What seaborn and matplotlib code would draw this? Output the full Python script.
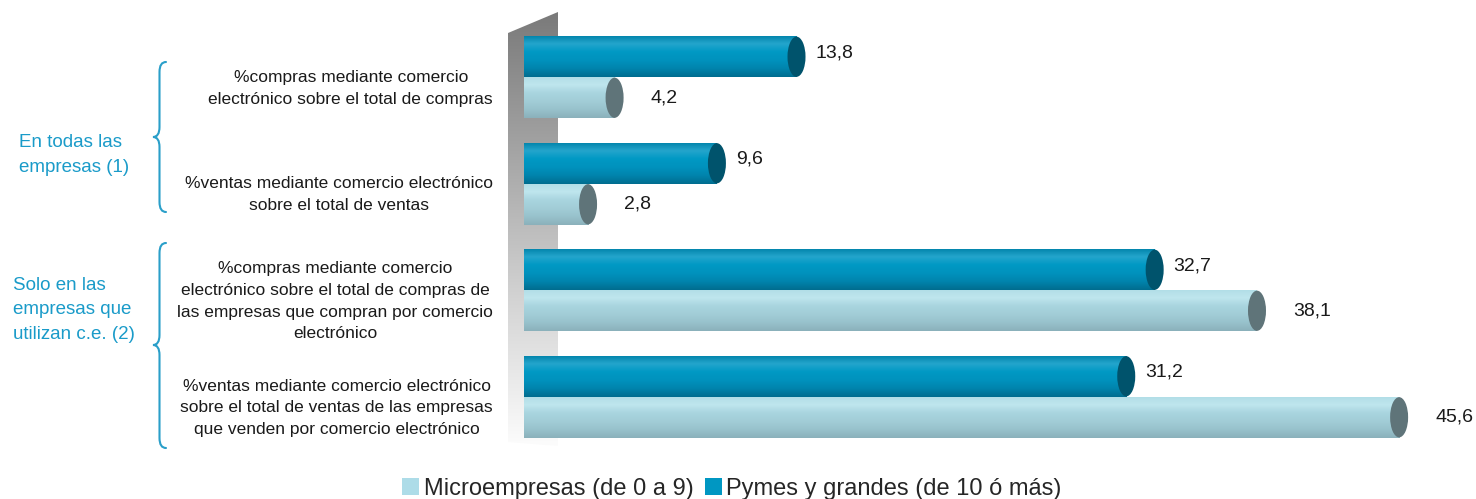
import numpy as np
import pandas as pd
import matplotlib
matplotlib.use("Agg")
import matplotlib.pyplot as plt
import seaborn as sns
from matplotlib import font_manager
from matplotlib.patches import Ellipse, Polygon, Patch, PathPatch
from matplotlib.path import Path
from matplotlib.colors import LinearSegmentedColormap

# ---------------- data ----------------
categories = [
    "%compras mediante comercio\nelectrónico sobre el total de compras",
    "%ventas mediante comercio electrónico\nsobre el total de ventas",
    "%compras mediante comercio\nelectrónico sobre el total de compras de\nlas empresas que compran por comercio\nelectrónico",
    "%ventas mediante comercio electrónico\nsobre el total de ventas de las empresas\nque venden por comercio electrónico",
]
series_names = ["Microempresas (de 0 a 9)", "Pymes y grandes (de 10 ó más)"]
micro_values = [4.2, 2.8, 38.1, 45.6]
pymes_values = [13.8, 9.6, 32.7, 31.2]
value_labels_micro = ["4,2", "2,8", "38,1", "45,6"]
value_labels_pymes = ["13,8", "9,6", "32,7", "31,2"]
group_labels = ["En todas las\nempresas (1)", "Solo en las\nempresas que\nutilizan c.e. (2)"]

df = pd.DataFrame({
    "categoria": categories * 2,
    "serie": [series_names[1]] * 4 + [series_names[0]] * 4,
    "valor": pymes_values + micro_values,
})

# ---------------- style ----------------
sns.set_style("white")
plt.rcParams["font.family"] = ["Liberation Sans", "DejaVu Sans"]

installed = {f.name for f in font_manager.fontManager.ttflist}
if "Liberation Sans Narrow" in installed:
    legend_font = {"family": ["Liberation Sans Narrow", "DejaVu Sans"], "size": 18}
else:
    legend_font = {"family": ["Liberation Sans", "DejaVu Sans"], "size": 17}

W, H = 1476, 499
fig = plt.figure(figsize=(W / 100, H / 100), dpi=100)

# background axes in pixel coordinates for decorations
bg = fig.add_axes([0, 0, 1, 1], zorder=0)
bg.axis("off")

# gray "wall" with vertical gradient
wall = Polygon([(508, 33), (558, 12), (558, 446), (508, 442)], closed=True,
               facecolor="none", edgecolor="none")
bg.add_patch(wall)
wall_cmap = LinearSegmentedColormap.from_list(
    "wall", ["#7a7a7a", "#a6a6a6", "#d4d4d4", "#fcfcfc"])
grad = np.linspace(0, 1, 256).reshape(-1, 1)
im = bg.imshow(grad, extent=(508, 558, 446, 12), cmap=wall_cmap,
               aspect="auto", origin="upper", zorder=1)
im.set_clip_path(wall)
bg.set_xlim(0, W)
bg.set_ylim(H, 0)

# curly braces
brace_color = "#2a9fc9"


def brace(ax, x_tip, x_end, y0, y1, ym):
    r = 10
    xm = (x_tip + x_end) / 2
    verts = [
        (x_end, y0), (xm, y0), (xm, y0 + r),
        (xm, ym - r),
        (xm, ym), (x_tip, ym),
        (xm, ym), (xm, ym + r),
        (xm, y1 - r),
        (xm, y1), (x_end, y1),
    ]
    codes = [Path.MOVETO, Path.CURVE3, Path.CURVE3,
             Path.LINETO,
             Path.CURVE3, Path.CURVE3,
             Path.CURVE3, Path.CURVE3,
             Path.LINETO,
             Path.CURVE3, Path.CURVE3]
    ax.add_patch(PathPatch(Path(verts, codes), facecolor="none",
                           edgecolor=brace_color, lw=1.5, capstyle="round"))


brace(bg, 153, 166, 62, 212, 137)
brace(bg, 153, 166, 243, 448, 345)

bg.text(19, 155, group_labels[0], color="#1a9bc9", fontsize=13.5,
        ha="left", va="center", linespacing=1.55)
bg.text(13, 310, group_labels[1], color="#1a9bc9", fontsize=13.5,
        ha="left", va="center", linespacing=1.55)

# ---------------- main axes ----------------
ax_left, ax_right = 524, 1476
ax_top, ax_bottom = 24, 450
px_per_unit = 18.95
zero_px = 535
x_lo = (ax_left - zero_px) / px_per_unit
x_hi = (ax_right - zero_px) / px_per_unit

ax = fig.add_axes([ax_left / W, 1 - ax_bottom / H,
                   (ax_right - ax_left) / W, (ax_bottom - ax_top) / H], zorder=2)
ax.patch.set_alpha(0)

palette = {series_names[0]: "#a6d6e0", series_names[1]: "#0094bf"}
sns.barplot(data=df, y="categoria", x="valor", hue="serie",
            hue_order=[series_names[1], series_names[0]], order=categories,
            palette=palette, width=0.77, orient="h", ax=ax, legend=False,
            saturation=1, edgecolor="none", linewidth=0)

ax.set_xlim(x_lo, x_hi)
ax.set_ylim(3.5, -0.5)

dark_cmap = LinearSegmentedColormap.from_list(
    "dark", ["#0083aa", "#24a5cc", "#0099c4", "#0092bd", "#0084ad", "#006d90"])
light_cmap = LinearSegmentedColormap.from_list(
    "light", ["#b1dde6", "#bfe6ee", "#a9d5df", "#a2cdd7", "#98c2cc", "#8bb1bb"])
cap_colors = {"dark": "#00536c", "light": "#5f7479"}

bars = list(ax.patches)
grad_bar = np.linspace(0, 1, 64).reshape(-1, 1)
# first 4 patches are Pymes (dark), next 4 are Micro (light)
for i, p in enumerate(bars):
    kind = "dark" if i < 4 else "light"
    x0, y0 = p.get_x(), p.get_y()
    w, h = p.get_width(), p.get_height()
    xend = x0 + w
    # extend the cylinder base back onto the wall
    p.set_x(x_lo)
    p.set_width(xend - x_lo)
    img = ax.imshow(grad_bar, extent=(x_lo, xend, y0 + h, y0),
                    cmap=dark_cmap if kind == "dark" else light_cmap,
                    aspect="auto", origin="upper", zorder=3)
    img.set_clip_path(p)
    cap = Ellipse((xend, y0 + h / 2), width=0.95, height=h * 0.98,
                  facecolor=cap_colors[kind], edgecolor="none", zorder=4)
    ax.add_patch(cap)
    lab = value_labels_pymes[i] if kind == "dark" else value_labels_micro[i - 4]
    if kind == "dark":
        off, dy = 19, 4
    else:
        off, dy = 36, 0
    ax.annotate(lab, xy=(xend, y0 + h / 2), xytext=(off, dy),
                textcoords="offset pixels", ha="left", va="center",
                fontsize=14, color="#1a1a1a", annotation_clip=False, zorder=5)

ax.set_xlim(x_lo, x_hi)
ax.set_ylim(3.5, -0.5)

# category labels (placed like tick labels, slightly lower as in the reference)
ax.set_yticks(range(len(categories)))
ax.set_yticklabels([])
for i, cat in enumerate(categories):
    ax.annotate(cat, xy=(0, i), xycoords=("axes fraction", "data"),
                xytext=(-31, -11), textcoords="offset pixels",
                ha="right", va="center", multialignment="center",
                fontsize=12.5, color="#1a1a1a", linespacing=1.55,
                annotation_clip=False)

ax.set_xlabel("")
ax.set_ylabel("")
ax.set_xticks([])
ax.tick_params(axis="y", length=0)
sns.despine(ax=ax, left=True, bottom=True)

# ---------------- legend ----------------
handles = [Patch(facecolor="#addce8", edgecolor="none", label=series_names[0]),
           Patch(facecolor="#0097c2", edgecolor="none", label=series_names[1])]
fig.legend(handles=handles, loc="lower center", bbox_to_anchor=(0.496, -0.03),
           ncol=2, frameon=False, prop=legend_font, handlelength=0.7,
           handleheight=0.7, handletextpad=0.2, columnspacing=0.5,
           borderaxespad=0.2)

fig.savefig("out.png", dpi=100, facecolor="white")
